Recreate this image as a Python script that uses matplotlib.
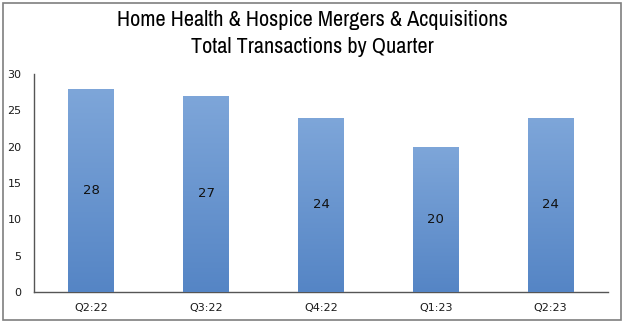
import matplotlib
matplotlib.use("Agg")
import matplotlib.pyplot as plt
import numpy as np
from matplotlib.patches import Rectangle
from matplotlib.colors import LinearSegmentedColormap

quarters = ["Q2:22", "Q3:22", "Q4:22", "Q1:23", "Q2:23"]
transactions = [28, 27, 24, 20, 24]
yticks = [0, 5, 10, 15, 20, 25, 30]

title_font = ["Archivo Narrow", "DejaVu Sans"]
label_font = ["DejaVu Sans"]

fig = plt.figure(figsize=(6.24, 3.24), dpi=100)
fig.patch.set_facecolor("white")
fig.add_artist(Rectangle((0.005, 0.012), 0.99, 0.978, transform=fig.transFigure,
                         fill=False, edgecolor="#7f7f7f", linewidth=1.2))

ax = fig.add_axes([34/624, 1-292/324, (608-34)/624, (292-74)/324])
x = np.arange(len(quarters))
bars = ax.bar(x, transactions, width=0.4, color="#6a98d0", edgecolor="none", zorder=2)

grad = np.linspace(0, 1, 256).reshape(-1, 1)
cmap = LinearSegmentedColormap.from_list("g", ["#5585c5", "#7ea6d9"])
for b in bars:
    xb, w, h = b.get_x(), b.get_width(), b.get_height()
    im = ax.imshow(grad, cmap=cmap, aspect="auto", origin="lower",
                   extent=[xb, xb + w, 0, h], zorder=3)
    im.set_clip_path(b)
    ax.text(xb + w/2, h/2, str(int(h)), ha="center", va="center",
            fontsize=9.5, color="#111111", family=label_font, zorder=4)

ax.set_xlim(-0.5, len(quarters) - 0.5)
ax.set_ylim(0, 30)
ax.set_yticks(yticks)
ax.set_xticks(x)
ax.set_xticklabels(quarters)
ax.tick_params(axis="both", length=0, labelsize=8, colors="#1a1a1a")
for lab in ax.get_xticklabels() + ax.get_yticklabels():
    lab.set_family(label_font)
ax.tick_params(axis="y", pad=9)
ax.tick_params(axis="x", pad=8)
for s in ["top", "right"]:
    ax.spines[s].set_visible(False)
for s in ["left", "bottom"]:
    ax.spines[s].set_color("#555555")
    ax.spines[s].set_linewidth(1.0)

fig.text(0.5, 1-20/324, "Home Health & Hospice Mergers & Acquisitions",
         ha="center", va="center", fontsize=16, family=title_font, color="#000000")
fig.text(0.5, 1-47/324, "Total Transactions by Quarter",
         ha="center", va="center", fontsize=16, family=title_font, color="#000000")

fig.savefig("out.png", dpi=100)
